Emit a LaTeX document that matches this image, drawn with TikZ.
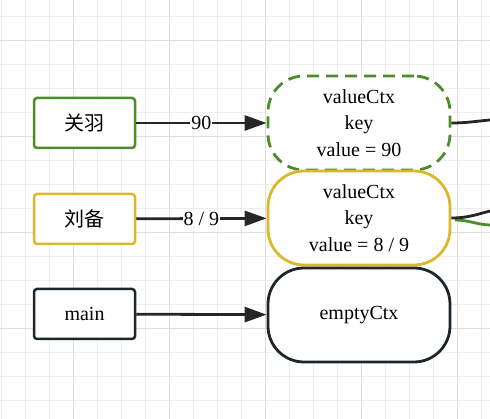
\documentclass[tikz,border=0pt]{standalone}
\usepackage{fontspec}
\setmainfont{Liberation Serif}
\newfontfamily\cjk{Noto Sans CJK SC}
\usetikzlibrary{arrows.meta}
\definecolor{gridminor}{HTML}{EEEEEE}
\definecolor{gridmajor}{HTML}{DDDDDD}
\definecolor{ctxgreen}{HTML}{4C8C2B}
\definecolor{ctxyellow}{HTML}{DBB72C}
\definecolor{ctxdark}{HTML}{1F262B}
\definecolor{linkdark}{HTML}{262626}
\begin{document}
\begin{tikzpicture}[x=1pt, y=-1pt,
        every node/.style={font=\fontsize{20}{26.5}\selectfont, text=black},
        gobox/.style={draw=#1, rounded corners=3pt, line width=2.5pt, fill=white,
            minimum width=101pt, minimum height=50pt, inner sep=0pt},
        ctxbox/.style={draw=#1, rounded corners=36pt, line width=2.8pt, fill=white,
            minimum width=182pt, minimum height=94pt, inner sep=0pt, align=center},
        link/.style={line width=2.8pt, linkdark, -{Triangle[length=22pt, width=15pt]}},
        wire/.style={line width=2.8pt, linkdark},
        lbl/.style={fill=white, inner sep=1pt}]
        \useasboundingbox (0,0) rectangle (490,419);
        
        % Grille
        \foreach \gx in {1,25,...,489} \draw[gridminor, line width=1pt] (\gx,0) -- (\gx,419);
        \foreach \gy in {17,41,...,419} \draw[gridminor, line width=1pt] (0,\gy) -- (490,\gy);
        \foreach \gx in {73,169,...,489} \draw[gridmajor, line width=1pt] (\gx,0) -- (\gx,419);
        \foreach \gy in {41,137,...,419} \draw[gridmajor, line width=1pt] (0,\gy) -- (490,\gy);
        
        % Fil vert qui sort a droite
        \coordinate (outGreen) at (490,225);
        \draw[line width=2.8pt, ctxgreen] (455,220) to[out=0, in=178] (outGreen);
        
        % Contextes
        \node[ctxbox=ctxgreen, dash pattern=on 12pt off 7pt] (valueGy) at (359,123)
            {valueCtx\\key\\value = 90};
        \node[ctxbox=ctxyellow] (valueLb) at (359,218) {valueCtx\\key\\value = 8 / 9};
        \node[ctxbox=ctxdark] (emptyCtx) at (359,315) {emptyCtx};
        
        % Goroutines
        \node[gobox=ctxgreen] (guanyu) at (84.5,123) {\cjk 关羽};
        \node[gobox=ctxyellow] (liubei) at (84.5,219) {\cjk 刘备};
        \node[gobox=ctxdark] (main) at (84.5,314) {main};
        
        % Fleches
        \draw[link] (guanyu) -- (valueGy) node[midway, lbl] {90};
        \draw[link] (liubei) -- (valueLb) node[midway, lbl] {8 / 9};
        \draw[link] (main) -- (emptyCtx);
        
        % Sorties vers le parent
        \coordinate (outGy) at (490,120);
        \coordinate (outLb) at (490,211);
        \draw[wire] (valueGy.east) to[out=0, in=185] (outGy);
        \draw[wire] (valueLb.east) to[out=0, in=195] (outLb);
    \end{tikzpicture}
\end{document}
